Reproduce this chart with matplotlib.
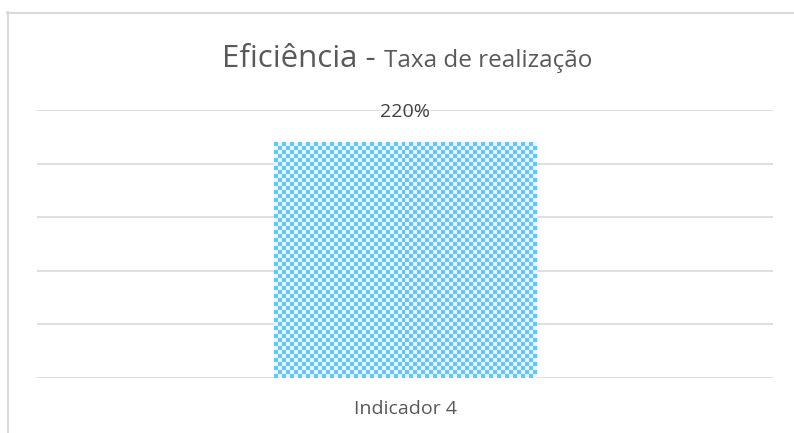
from matplotlib import pyplot as plt
from matplotlib.lines import Line2D
import numpy as np

categories = ["Indicador 4"]
values = [220]
value_labels = ["220%"]
y_max = 250
y_step = 50

plt.rcParams['font.family'] = ['Open Sans', 'DejaVu Sans']

fig = plt.figure(figsize=(7.94, 4.33), dpi=100)
W, H = 794, 433

# chart frame (only left and top edges visible in the crop)
fig.add_artist(Line2D([7.5 / W, 7.5 / W], [0, 1 - 12 / H], color='#D9D9D9', lw=1.5))
fig.add_artist(Line2D([7 / W, 1], [1 - 12.5 / H, 1 - 12.5 / H], color='#D9D9D9', lw=1.5))

ax = fig.add_axes([37 / W, (H - 378) / H, 736 / W, 268 / H])
ax.set_xlim(-0.5, 0.5)
ax.set_ylim(0, y_max)
for s in ax.spines.values():
    s.set_visible(False)
ax.set_yticks(np.arange(0, y_max + 1, y_step))
ax.yaxis.grid(True, color='#D9D9D9', lw=1.2)
ax.set_axisbelow(True)
ax.tick_params(left=False, bottom=False, labelleft=False)

x = np.arange(len(categories))
bars = ax.bar(x, values, width=0.357, color='none', edgecolor='none')

# checker fill clipped to the bar
for b in bars:
    bx, by, bw, bh = b.get_x(), b.get_y(), b.get_width(), b.get_height()
    px_w = bw * 736
    px_h = bh / y_max * 268
    cell = 4
    nx, ny = int(round(px_w / cell)), int(round(px_h / cell))
    checker = (np.add.outer(np.arange(ny), np.arange(nx)) % 2)
    cols = np.array([[0.38, 0.78, 0.99], [0.90, 0.96, 1.0]])
    img = cols[checker]
    im = ax.imshow(img, extent=(bx, bx + bw, by, by + bh), aspect='auto',
                   interpolation='nearest', zorder=2)
    im.set_clip_path(b)

for xi, v, lab in zip(x, values, value_labels):
    ax.annotate(lab, (xi, v), xytext=(0, 22), textcoords='offset points',
                ha='center', va='center', fontsize=14, color='#404040')

ax.set_xticks(x)
ax.set_xticklabels(categories, fontsize=14, color='#595959')
ax.tick_params(axis='x', pad=12)

# title in two sizes
fig.canvas.draw()
r = fig.canvas.get_renderer()
base = 1 - 67 / H
t1 = fig.text(0, base, "Eficiência - ", fontsize=22.5, color='#595959', va='baseline')
t2 = fig.text(0, base, "Taxa de realização", fontsize=17.5, color='#595959', va='baseline')
w1 = t1.get_window_extent(r).width
w2 = t2.get_window_extent(r).width
start = 407 - (w1 + w2) / 2
t1.set_x(start / W)
t2.set_x((start + w1) / W)

fig.savefig("out.png", dpi=100)
